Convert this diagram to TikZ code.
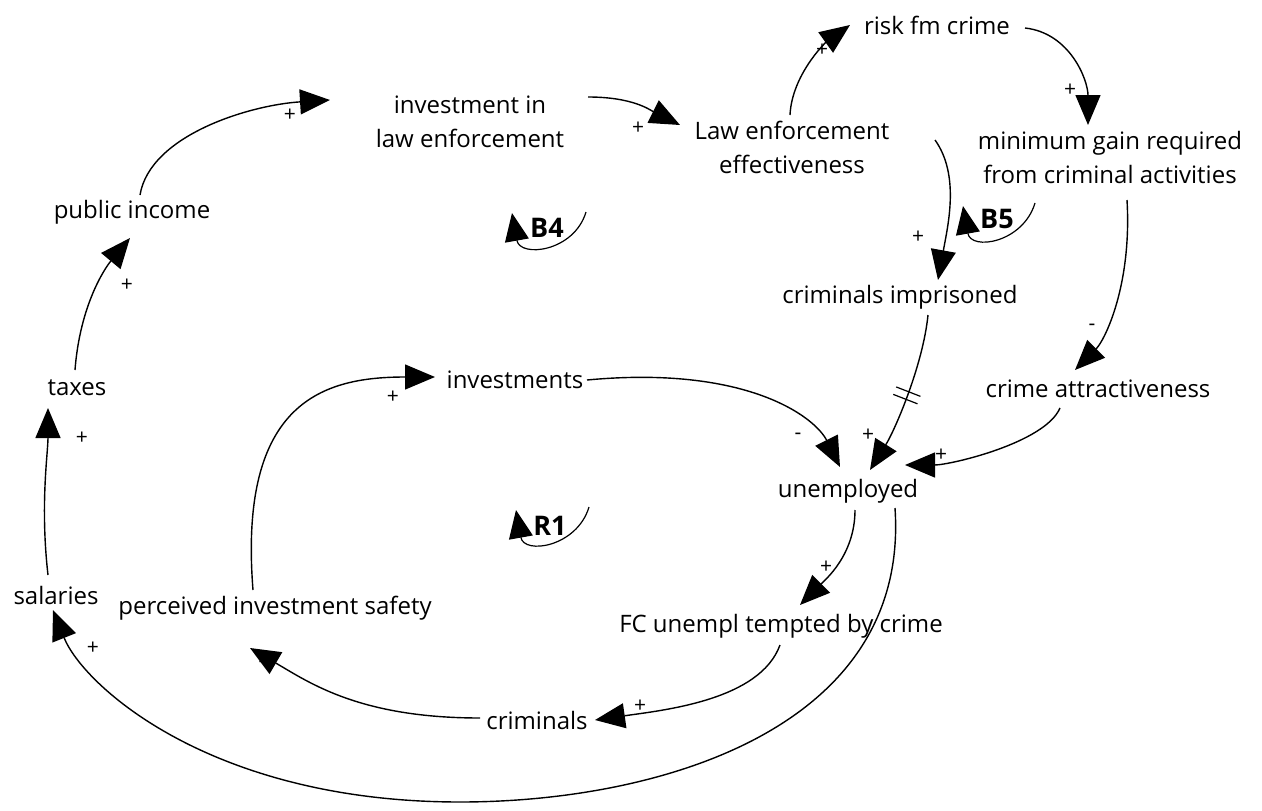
\documentclass[tikz,border=0pt]{standalone}
\usepackage{fontspec}
\setmainfont{Open Sans}
\usetikzlibrary{arrows.meta,calc,decorations.markings}
\begin{document}
\begin{tikzpicture}[x=1pt,y=-1pt,
  var/.style={inner sep=0pt, align=center, font=\fontsize{24}{34}\selectfont},
  link/.style={line width=1.4pt, -{Triangle[length=30pt,width=25pt]}},
  sign/.style={font=\fontsize{21}{21}\selectfont, inner sep=0pt},
  looplabel/.style={font=\bfseries\fontsize{27}{27}\selectfont, inner sep=0pt},
  looparrow/.style={line width=1.2pt, -{Triangle[length=28pt,width=24pt]}},
  delaymark/.style={postaction={decorate}, decoration={markings, mark=at position #1 with {\draw[line width=1.2pt,-] (-4pt,-13pt)--(-4pt,13pt) (4pt,-13pt)--(4pt,13pt);}}}
]
\useasboundingbox (0,0) rectangle (1262,811);
% variables
\node[var] (lie) at (470,122) {investment in\\law enforcement};
\node[var] (lee) at (792,147) {Law enforcement\\effectiveness};
\node[var] (risk) at (937,25) {risk fm crime};
\node[var] (gain) at (1110,157) {minimum gain required\\from criminal activities};
\node[var] (pub) at (132,212) {public income};
\node[var] (imp) at (900,297) {criminals imprisoned};
\node[var] (attr) at (1098,389) {crime attractiveness};
\node[var] (taxes) at (77,388) {taxes};
\node[var] (inv) at (515,380) {investments};
\node[var] (unemp) at (848,491) {unemployed};
\node[var] (sal) at (56,595) {salaries};
\node[var] (pis) at (275,608) {perceived investment safety};
\node[var] (fc) at (781,626) {FC unempl tempted by crime};
\node[var] (crim) at (537,720) {criminals};
% loop labels
\node[looplabel] (b4) at (547,228) {B4};
\node[looplabel] (b5) at (997,219) {B5};
\node[looplabel] (r1) at (550,526) {R1};
\draw[looparrow] ($(b4)+(39,-16)$) .. controls +(-12,40) and +(8,45) .. ($(b4)+(-35,-15)$);
\draw[looparrow] ($(b5)+(38,-16)$) .. controls +(-12,40) and +(8,45) .. ($(b5)+(-34,-13)$);
\draw[looparrow] ($(r1)+(39,-19)$) .. controls +(-12,40) and +(8,45) .. ($(r1)+(-34,-16)$);
% links
\draw[link] ($(pub)+(8,-17)$) .. controls +(10,-60) and +(-80,5) .. ($(lie)+(-140,-22)$);
\draw[link] ($(lie)+(118,-25)$) .. controls +(45,0) and +(-30,-15) .. ($(lee)+(-112,-22)$);
\draw[link] ($(lee)+(-2,-32)$) .. controls +(2,-40) and +(-25,18) .. ($(risk)+(-87,0)$);
\draw[link] ($(risk)+(88,3)$) .. controls +(45,5) and +(0,-45) .. ($(gain)+(-22,-32)$);
\draw[link] ($(lee)+(143,-7)$) .. controls +(25,35) and +(10,-55) .. ($(imp)+(38,-17)$);
\draw[link] ($(gain)+(17,43)$) .. controls +(5,85) and +(30,-30) .. ($(attr)+(-23,-19)$);
\draw[link,delaymark=0.5] ($(imp)+(28,18)$) .. controls +(-5,50) and +(25,-40) .. ($(unemp)+(22,-21)$);
\draw[link] ($(attr)+(-38,19)$) .. controls +(-15,35) and +(45,0) .. ($(unemp)+(57,-26)$);
\draw[link] ($(inv)+(72,0)$) .. controls +(160,-15) and +(-25,-50) .. ($(unemp)+(-8,-24)$);
\draw[link] ($(unemp)+(7,19)$) .. controls +(0,45) and +(25,-25) .. ($(fc)+(19,-21)$);
\draw[link] ($(fc)+(-1,19)$) .. controls +(-20,55) and +(70,-10) .. ($(crim)+(58,0)$);
\draw[link] ($(crim)+(-57,-2)$) .. controls +(-120,0) and +(60,35) .. ($(pis)+(-25,40)$);
\draw[link] ($(pis)+(-22,-18)$) .. controls +(-15,-190) and +(-110,0) .. ($(inv)+(-80,-3)$);
\draw[link] ($(unemp)+(47,17)$) .. controls +(15,220) and +(200,0) .. (460,802) .. controls +(-250,0) and +(30,75) .. ($(sal)+(-3,15)$);
\draw[link] ($(sal)+(-8,-20)$) .. controls +(-8,-70) and +(0,45) .. ($(taxes)+(-29,20)$);
\draw[link] ($(taxes)+(-2,-18)$) .. controls +(5,-65) and +(-25,30) .. ($(pub)+(-2,26)$);
% polarity signs
\node[sign] (s1) at (290,115) {+};
\node[sign] (s2) at (638,128) {+};
\node[sign] (s3) at (822,50) {+};
\node[sign] (s4) at (1070,90) {+};
\node[sign] (s5) at (918,237) {+};
\node[sign] (s6) at (1092,327) {-};
\node[sign] (s7) at (868,435) {+};
\node[sign] (s8) at (941,455) {+};
\node[sign] (s9) at (798,436) {-};
\node[sign] (s10) at (826,567) {+};
\node[sign] (s11) at (640,706) {+};
\node[sign] (s12) at (262,664) {-};
\node[sign] (s13) at (393,397) {+};
\node[sign] (s14) at (93,648) {+};
\node[sign] (s15) at (82,438) {+};
\node[sign] (s16) at (127,285) {+};
\end{tikzpicture}
\end{document}
